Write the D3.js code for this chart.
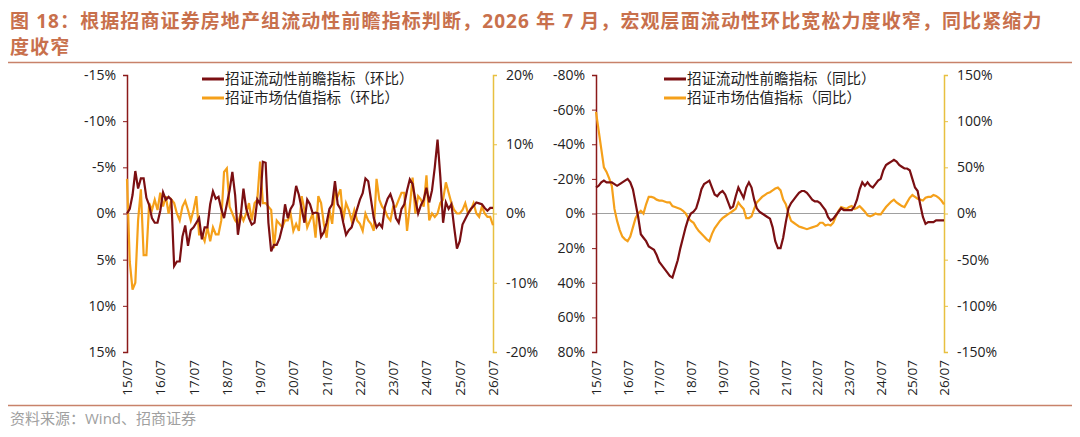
<!DOCTYPE html>
<html lang="zh">
<head>
<meta charset="utf-8">
<script src="https://cdnjs.cloudflare.com/ajax/libs/d3/7.8.5/d3.min.js"></script>
<style>
  body { margin: 0; background: #fff; }
  svg text { font-family: "Open Sans", "Noto Sans CJK SC", sans-serif; }
</style>
</head>
<body>
<svg id="chart" width="1080" height="437"></svg>
<script>
// month-on-month (left chart), monthly 2015/07 - 2026/07
const liqMoM = [
  0, -0.5, -2, -4.6, -2.7, -3.8,
  -3.8, -1.7, -0.9, 0.5, 1, 1, -0.3, -2.3, -1.5, -1.8, -1.5, 5.7,
  5.2, 5.2, 2.5, 1.3, 3.5, 1.8, 1.5, 1, 0.5, 2.8, 1.5, 1.5,
  -1, -2.4, -1.6, -1.8, -0.5, 0.5, -1, -2.5, -4.5, -2, 2.3, 0.3,
  -2.7, -0.5, 0.5, 1.2, 1, -1.5, -1, -5.6, -5.5, 1, 4.1, 3.4,
  3.4, 2.7, 1.5, -1, 0.5, -0.5, -1, -3, -2, -0.5, 1, -1.5,
  -1, 0, -0.1, 0, 2.5, 2, 1, -0.5, -1, -3.5, -1, -0.5,
  1, 2.3, 1.8, 1.5, 0.5, -0.5, -1.5, -2.2, -3.8, -3.5, -1.5, 0.5,
  1.5, 1.1, 1.5, -0.7, -1.6, -2.1, -1.2, 0.5, 1, -0.5, -1, -2.5,
  -3.7, -3.2, -1.5, 0, -0.9, -1.5, -2.8, -1.2, -2.5, -5, -8, -4,
  1, -1.2, -0.5, -1, 1.5, 3.8, 3, 1.2, 0.6, 0, -0.5, -0.8,
  -1.2, -1.1, -1, -0.6, -0.3, -0.6, -0.6
];
const valMoM = [
  5, -7, -11, -10, -1, 3.5,
  -6, -6, 1.5, 0.5, 2, 0.5, 3, 1, 2.5, 0, 2, 1.5,
  0, -1, 1, 1.8, 0.5, -1, 0.5, 2.5, -3, -3, -4, -2,
  -4, -2, -3, -3, -1, 6, 6.5, 1, 0, -1, -1.5, 0,
  -1, 0, 1.5, -1, 1.5, 2, 7.5, 1.5, 1.5, 1, 0.5, -5,
  -1, -1.5, -2, -1, -1, 0, -2.5, -1.5, -2.5, 2.5, 0.5, -2,
  -1, 0, -3.5, 2.5, 1.5, -1.5, -3.5, 0.5, -1.5, 3, 2.5, 3.5,
  -1, 1.5, 0.5, -1, 0.5, -1, -1.5, -2.5, 0, -1, -1.5, -2.5,
  5, 2, 1, 0.5, -0.5, -1, 1, 1, 2, 3, 3, -2.5,
  1, 5.2, 0, 2.5, 2, 1, 5.5, -1, 0, -0.5, 0, 1.5,
  2, 4.5, 3, 1.5, 0.5, 0, 0, 0.5, 1.5, 0, 0.5, 1.5,
  0, -0.5, 1, 0, -0.5, -0.5, -1.7
];
// year-on-year (right chart)
const liqYoY = [
  -15, -16, -18, -19, -18, -18,
  -18, -17, -16, -17, -18, -19, -20, -18, -14, -6, 2, 12,
  14, 16, 19, 20, 21, 24, 28, 30, 32, 34, 36, 37,
  32, 27, 20, 14, 8, 3, 0, -1, -3, -8, -14, -17,
  -18, -19, -15, -11, -10, -12, -13, -11, -7, -3, -4, -10,
  -15, -12, -9, -15, -18, -15, -8, -3, -1, 0, 1, 2,
  3, 8, 16, 20, 20, 14, 5, -3, -6, -8, -10, -12,
  -13, -13, -12, -10, -8, -7, -7, -6, -4, -2, 2, 4,
  3, 1, -1, -3, -2, -2, -2, -2, -4, -8, -14, -18,
  -16, -18, -16, -15, -17, -19, -20, -25, -28, -29, -30, -31,
  -30, -28, -27, -26, -26, -25, -20, -15, -13, -5, 2, 6,
  5, 5, 5, 4, 4, 4, 4
];
const valYoY = [
  110, 90, 70, 50, 45, 38,
  30, 5, -8, -18, -25, -28, -30, -25, -15, -5, 0, 3,
  0, 10, 18, 18, 17, 15, 14, 14, 13, 12, 12, 8,
  7, 6, 5, 3, 0, -5, -8, -10, -15, -19, -22, -25,
  -28, -30, -22, -16, -12, -8, -5, -3, -1, 1, 3, 5,
  12, 8, 5, -5, -5, -3, 5, 12, 15, 18, 20, 22,
  23, 25, 27, 28, 25, 15, 10, 0, -8, -10, -12, -14,
  -15, -16, -17, -16, -15, -14, -13, -10, -10, -13, -12, -13,
  -10, -3, 3, 7, 6, 5, 7, 8, 5, 6, 8, 5,
  2, -2, -3, -2, 0, -1, -1, 3, 7, 10, 13, 15,
  12, 10, 8, 7, 12, 17, 20, 18, 16, 15, 14, 17,
  18, 18, 20, 19, 17, 14, 10
];
const xTicks = ["15/07","16/07","17/07","18/07","19/07","20/07","21/07","22/07","23/07","24/07","25/07","26/07"];
const leftTicksMoM = [-15, -10, -5, 0, 5, 10, 15];
const rightTicksMoM = [20, 10, 0, -10, -20];
const leftTicksYoY = [-80, -60, -40, -20, 0, 20, 40, 60, 80];
const rightTicksYoY = [150, 100, 50, 0, -50, -100, -150];
const namesMoM = ["招证流动性前瞻指标（环比）", "招证市场估值指标（环比）"];
const namesYoY = ["招证流动性前瞻指标（同比）", "招证市场估值指标（同比）"];

const RED = "#7B0F12", ORANGE = "#F5A01A", AXR = "#8B1A1A", AXO = "#E8C040";
const svg = d3.select("#chart");

// title
const titleColor = "#C8704C";
svg.append("text").attr("x", 10).attr("y", 28).attr("fill", titleColor)
  .attr("font-size", 19).attr("font-weight", "bold").attr("letter-spacing", 1.1)
  .text("图 18：根据招商证券房地产组流动性前瞻指标判断，2026 年 7 月，宏观层面流动性环比宽松力度收窄，同比紧缩力");
svg.append("text").attr("x", 10).attr("y", 54).attr("fill", titleColor)
  .attr("font-size", 19).attr("font-weight", "bold").attr("letter-spacing", 1.1).text("度收窄");
svg.append("line").attr("x1", 8).attr("x2", 1072).attr("y1", 62.5).attr("y2", 62.5)
  .attr("stroke", "#C8826A").attr("stroke-width", 1.5);
svg.append("line").attr("x1", 8).attr("x2", 1072).attr("y1", 405.5).attr("y2", 405.5)
  .attr("stroke", "#C8826A").attr("stroke-width", 1.5);
svg.append("text").attr("x", 10).attr("y", 424).attr("fill", "#A0A0A0")
  .attr("font-size", 15).text("资料来源：Wind、招商证券");

function panel(x0, x1, lData, rData, lDom, rDom, lTicks, rTicks, names, legX) {
  const top = 75, bottom = 352;
  const x = d3.scaleLinear().domain([0, lData.length - 1]).range([x0, x1]);
  const yl = d3.scaleLinear().domain(lDom).range([top, bottom]);
  const yr = d3.scaleLinear().domain(rDom).range([top, bottom]);
  const g = svg.append("g");

  g.append("line").attr("x1", x0).attr("x2", x1).attr("y1", yl(0)).attr("y2", yl(0))
    .attr("stroke", "#A0A0A0").attr("stroke-width", 1);

  const la = g.append("g").attr("transform", `translate(${x0},0)`)
    .call(d3.axisLeft(yl).tickValues(lTicks).tickSize(4).tickFormat(d => d + "%"));
  la.select(".domain").attr("stroke", AXR).attr("stroke-width", 1.5);
  la.selectAll(".tick line").attr("stroke", AXR);
  la.selectAll("text").attr("font-size", 14).attr("fill", "#222").attr("dx", -4);

  const ra = g.append("g").attr("transform", `translate(${x1},0)`)
    .call(d3.axisRight(yr).tickValues(rTicks).tickSize(4).tickFormat(d => d + "%"));
  ra.select(".domain").attr("stroke", AXO).attr("stroke-width", 1.5);
  ra.selectAll(".tick line").attr("stroke", AXO);
  ra.selectAll("text").attr("font-size", 14).attr("fill", "#222").attr("dx", 6);

  xTicks.forEach((t, i) => {
    g.append("text").attr("transform", `translate(${x(i * 12) + 5},360) rotate(-90)`)
      .attr("text-anchor", "end").attr("font-size", 13.5).attr("fill", "#222").text(t);
  });

  g.append("path").datum(rData).attr("fill", "none").attr("stroke", ORANGE).attr("stroke-width", 2.2)
    .attr("d", d3.line().x((d, i) => x(i)).y(d => yr(d)));
  g.append("path").datum(lData).attr("fill", "none").attr("stroke", RED).attr("stroke-width", 2.2)
    .attr("d", d3.line().x((d, i) => x(i)).y(d => yl(d)));

  [RED, ORANGE].forEach((c, i) => {
    const yy = 79 + i * 19;
    g.append("line").attr("x1", legX).attr("x2", legX + 22).attr("y1", yy).attr("y2", yy)
      .attr("stroke", c).attr("stroke-width", 3);
    g.append("text").attr("x", legX + 23).attr("y", yy + 5).attr("font-size", 14.5)
      .attr("fill", "#222").text(names[i]);
  });
}

panel(127, 493, liqMoM, valMoM, [-15, 15], [20, -20], leftTicksMoM, rightTicksMoM, namesMoM, 202);
panel(596, 944, liqYoY, valYoY, [-80, 80], [150, -150], leftTicksYoY, rightTicksYoY, namesYoY, 664);
</script>
</body>
</html>
